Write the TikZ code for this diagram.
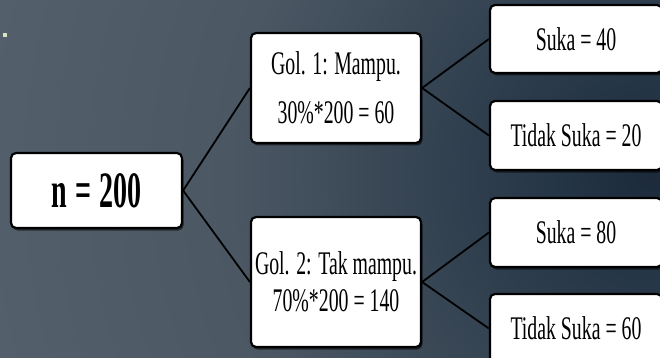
\documentclass[tikz,border=0pt]{standalone}
\usepackage{fontspec}
\setmainfont{Liberation Serif}[FakeStretch=0.6]
\newfontfamily\boldcond{Liberation Serif}[FakeStretch=0.55,UprightFont=* Bold]
\usetikzlibrary{shadows}
\pgfdeclareradialshading{bgshade}{\pgfpoint{0bp}{0bp}}{%
  rgb(0bp)=(0.11,0.165,0.23);
  rgb(3bp)=(0.14,0.205,0.27);
  rgb(15bp)=(0.294,0.341,0.388);
  rgb(32bp)=(0.353,0.40,0.443);
  rgb(47bp)=(0.412,0.463,0.50);
  rgb(50bp)=(0.42,0.47,0.505)}
\definecolor{dotcol}{RGB}{215,228,190}
\begin{document}
\begin{tikzpicture}[x=1pt,y=-1pt,
  box/.style={draw=black, line width=2.2pt, fill=white, rounded corners=5pt,
    inner sep=0pt, align=center, font=\fontsize{33}{37}\selectfont,
    drop shadow={shadow xshift=1.5pt, shadow yshift=-2.5pt, opacity=0.55, fill=black}},
  link/.style={draw=black, line width=1.8pt}]
\useasboundingbox (0,0) rectangle (660,358);
\begin{scope}
  \clip (0,0) rectangle (660,358);
  \shade[shading=bgshade] (650,175) circle[radius=700];
  \fill[dotcol] (3,33) rectangle (7,37);
  \node[box, minimum width=171pt, minimum height=75pt, font=\boldcond\fontsize{51}{55}\selectfont] (n) at (96.5,190.5) {n\,=\,200};
  \node[box, minimum width=170pt, minimum height=110pt] (g1) at (336,88) {Gol. 1: Mampu.\\[12pt]30\%*200 = 60};
  \node[box, minimum width=170pt, minimum height=130pt] (g2) at (336,282) {Gol. 2: Tak mampu.\\[0pt]70\%*200 = 140};
  \node[box, minimum width=172pt, minimum height=68pt] (s1) at (576,39) {Suka = 40};
  \node[box, minimum width=172pt, minimum height=69pt] (t1) at (576,135.5) {Tidak Suka = 20};
  \node[box, minimum width=172pt, minimum height=69pt] (s2) at (576,232.5) {Suka = 80};
  \node[box, minimum width=172pt, minimum height=69pt] (t2) at (576,328.5) {Tidak Suka = 60};
  \draw[link] (n.east) -- (g1.west);
  \draw[link] (n.east) -- (g2.west);
  \draw[link] (g1.east) -- (s1.west);
  \draw[link] (g1.east) -- (t1.west);
  \draw[link] (g2.east) -- (s2.west);
  \draw[link] (g2.east) -- (t2.west);
\end{scope}
\end{tikzpicture}
\end{document}
